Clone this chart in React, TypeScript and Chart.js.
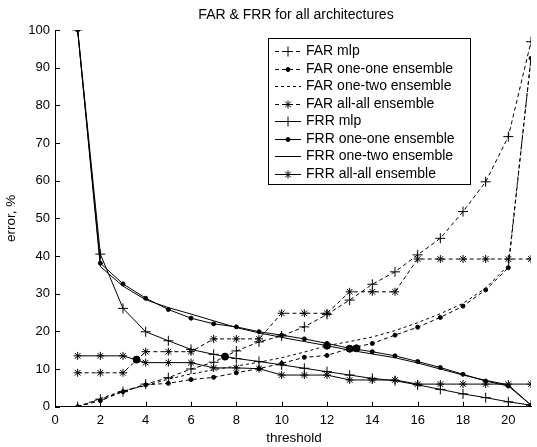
import React, { useEffect, useRef } from 'react';
import { Chart, registerables } from 'chart.js';
import { drawPoint } from 'chart.js/helpers';

Chart.register(...registerables);

const thresholds = [1, 2, 3, 4, 5, 6, 7, 8, 9, 10, 11, 12, 13, 14, 15, 16, 17, 18, 19, 20, 21];

const farMlp = [0, 2.0, 4.0, 6.0, 7.7, 10.0, 11.8, 14.8, 17.2, 18.8, 21.2, 24.5, 28.3, 32.5, 35.8, 40.3, 44.7, 51.8, 59.7, 71.7, 96.9];
const farOneOne = [0, 1.6, 4.0, 5.8, 6.2, 7.2, 7.8, 9.0, 10.1, 11.5, 13.1, 13.6, 15.5, 16.8, 19.0, 21.1, 23.7, 26.7, 31.0, 36.9, 92.5];
const farOneTwo = [0, 2.2, 4.2, 5.6, 7.3, 8.7, 9.8, 10.8, 11.8, 13.0, 14.5, 16.2, 17.3, 18.5, 20.2, 22.3, 24.7, 27.4, 31.5, 37.5, 92.5];
const farAllAll = [9.0, 9.0, 9.0, 14.6, 14.6, 14.6, 18.0, 18.0, 18.0, 24.8, 24.8, 24.8, 30.5, 30.5, 30.5, 39.2, 39.2, 39.2, 39.2, 39.2, 39.2];

const frrMlp = [100, 40.5, 26.1, 19.9, 17.5, 15.2, 13.9, 12.8, 12.0, 11.1, 10.2, 9.3, 8.4, 7.5, 6.9, 5.8, 4.6, 3.4, 2.4, 1.3, 0.4];
const frrOneOne = [100, 38.1, 32.6, 28.8, 25.8, 23.5, 22.0, 21.2, 19.9, 19.0, 18.0, 16.8, 15.5, 14.6, 13.5, 12.0, 10.4, 8.6, 6.8, 5.5, 0.4];
const frrOneTwo = [100, 37.2, 32.0, 28.4, 26.3, 24.6, 22.8, 21.0, 19.6, 18.4, 17.3, 16.2, 15.0, 14.0, 13.0, 11.6, 10.0, 8.4, 7.0, 5.8, 0.4];
const frrAllAll = [13.5, 13.5, 13.5, 11.7, 11.7, 11.7, 10.3, 10.3, 10.1, 8.4, 8.4, 8.4, 7.1, 7.1, 7.1, 6.0, 6.0, 6.0, 6.0, 6.0, 6.0];

const eerX = [3.6, 7.5, 12.0, 13.0, 13.3];
const eerY = [12.5, 13.3, 16.2, 15.4, 15.5];

const xTicks = [0, 2, 4, 6, 8, 10, 12, 14, 16, 18, 20];
const yTicks = [0, 10, 20, 30, 40, 50, 60, 70, 80, 90, 100];

const titleText = 'FAR & FRR for all architectures';
const xTitle = 'threshold';
const yTitle = 'error, %';

const FONT = '"Liberation Sans", Arial, sans-serif';

type SeriesDef = {
  label: string;
  values: number[];
  dashed: boolean;
  dash: number[];
  style: string | false;
  radius: number;
};

const seriesDefs: SeriesDef[] = [
  { label: 'FAR mlp', values: farMlp, dashed: true, dash: [4, 3], style: 'cross', radius: 5 },
  { label: 'FAR one-one ensemble', values: farOneOne, dashed: true, dash: [4, 3], style: 'circle', radius: 2 },
  { label: 'FAR one-two ensemble', values: farOneTwo, dashed: true, dash: [3, 3], style: false, radius: 0 },
  { label: 'FAR all-all ensemble', values: farAllAll, dashed: true, dash: [4, 3], style: 'star', radius: 4 },
  { label: 'FRR mlp', values: frrMlp, dashed: false, dash: [], style: 'cross', radius: 5 },
  { label: 'FRR one-one ensemble', values: frrOneOne, dashed: false, dash: [], style: 'circle', radius: 2 },
  { label: 'FRR one-two ensemble', values: frrOneTwo, dashed: false, dash: [], style: false, radius: 0 },
  { label: 'FRR all-all ensemble', values: frrAllAll, dashed: false, dash: [], style: 'star', radius: 4 },
];

const decorPlugin = {
  id: 'matlabDecor',
  afterDraw(chart: any) {
    const ctx: CanvasRenderingContext2D = chart.ctx;
    const area = chart.chartArea;
    const xs = chart.scales.x;
    const ys = chart.scales.y;
    ctx.save();
    ctx.strokeStyle = '#000';
    ctx.lineWidth = 1;
    ctx.setLineDash([]);
    // inward ticks
    xTicks.forEach((v) => {
      const px = Math.round(xs.getPixelForValue(v)) + 0.5;
      ctx.beginPath();
      ctx.moveTo(px, area.bottom);
      ctx.lineTo(px, area.bottom - 5);
      ctx.stroke();
    });
    yTicks.forEach((v) => {
      const py = Math.round(ys.getPixelForValue(v)) + 0.5;
      ctx.beginPath();
      ctx.moveTo(area.left, py);
      ctx.lineTo(area.left + 5, py);
      ctx.stroke();
    });

    // titles
    ctx.fillStyle = '#000';
    ctx.textAlign = 'center';
    ctx.textBaseline = 'middle';
    ctx.font = `14px ${FONT}`;
    ctx.fillText(titleText, 296, 15);
    ctx.font = `13.5px ${FONT}`;
    ctx.fillText(xTitle, 294, 438);
    ctx.save();
    ctx.translate(11, (area.top + area.bottom) / 2);
    ctx.rotate(-Math.PI / 2);
    ctx.fillText(yTitle, 0, 0);
    ctx.restore();

    // legend
    const bx = 268, by = 38, bw = 202, bh = 146;
    ctx.fillStyle = '#fff';
    ctx.fillRect(bx, by, bw, bh);
    ctx.strokeStyle = '#000';
    ctx.strokeRect(bx + 0.5, by + 0.5, bw, bh);
    ctx.textAlign = 'left';
    ctx.textBaseline = 'middle';
    ctx.font = `14px ${FONT}`;
    seriesDefs.forEach((s, i) => {
      const y = Math.round(by + 13 + i * 17.5) + 0.5;
      ctx.strokeStyle = '#000';
      ctx.lineWidth = 1;
      ctx.setLineDash(s.dashed ? s.dash : []);
      ctx.beginPath();
      ctx.moveTo(275, y);
      ctx.lineTo(301, y);
      ctx.stroke();
      ctx.setLineDash([]);
      if (s.style) {
        ctx.fillStyle = '#000';
        drawPoint(ctx, { pointStyle: s.style, radius: s.radius, rotation: 0, borderWidth: 1 } as any, 288, y);
      }
      ctx.fillStyle = '#000';
      ctx.fillText(s.label, 306, y);
    });
    ctx.restore();
  },
};

export default function App() {
  const canvasRef = useRef<HTMLCanvasElement | null>(null);

  useEffect(() => {
    if (!canvasRef.current) return;
    const datasets: any[] = seriesDefs.map((s) => ({
      label: s.label,
      data: thresholds.map((t, i) => ({ x: t, y: s.values[i] })),
      borderColor: '#000',
      backgroundColor: '#000',
      borderWidth: 1,
      borderDash: s.dashed ? s.dash : [],
      pointStyle: s.style || 'circle',
      pointRadius: s.radius,
      pointBorderColor: '#000',
      pointBackgroundColor: '#000',
      pointBorderWidth: 1,
      tension: 0,
      fill: false,
    }));
    datasets.push({
      label: 'EER',
      type: 'scatter',
      data: eerX.map((x, i) => ({ x, y: eerY[i] })),
      pointStyle: 'circle',
      pointRadius: 3.5,
      pointBackgroundColor: '#000',
      pointBorderColor: '#000',
      showLine: false,
    });

    const chart = new Chart(canvasRef.current, {
      type: 'line',
      data: { datasets },
      options: {
        responsive: false,
        animation: false,
        devicePixelRatio: 1,
        layout: { padding: { top: 30, right: 2, left: 0, bottom: 0 } },
        plugins: {
          legend: { display: false },
          title: { display: false },
          tooltip: { enabled: false },
        },
        scales: {
          x: {
            type: 'linear',
            min: 0,
            max: 21,
            grid: { display: false, drawTicks: false },
            border: { display: true, color: '#000', width: 1 },
            ticks: {
              color: '#000',
              font: { family: FONT, size: 13 },
              padding: 6,
              maxRotation: 0,
              autoSkip: false,
            },
            afterBuildTicks: (scale: any) => {
              scale.ticks = xTicks.map((v) => ({ value: v }));
            },
            afterFit: (scale: any) => {
              scale.height = 40.3;
            },
          },
          y: {
            type: 'linear',
            min: 0,
            max: 100,
            grid: { display: false, drawTicks: false },
            border: { display: true, color: '#000', width: 1 },
            ticks: {
              color: '#000',
              font: { family: FONT, size: 13 },
              padding: 5,
              autoSkip: false,
            },
            afterBuildTicks: (scale: any) => {
              scale.ticks = yTicks.map((v) => ({ value: v }));
            },
            afterFit: (scale: any) => {
              scale.width = 55;
            },
          },
        },
      },
      plugins: [decorPlugin],
    } as any);

    return () => {
      chart.destroy();
    };
  }, []);

  return (
    <div style={{ position: 'absolute', left: 0, top: 0, width: 537, height: 447, background: '#fff' }}>
      <canvas ref={canvasRef} width={537} height={447} style={{ width: 537, height: 447, display: 'block' }} />
    </div>
  );
}
